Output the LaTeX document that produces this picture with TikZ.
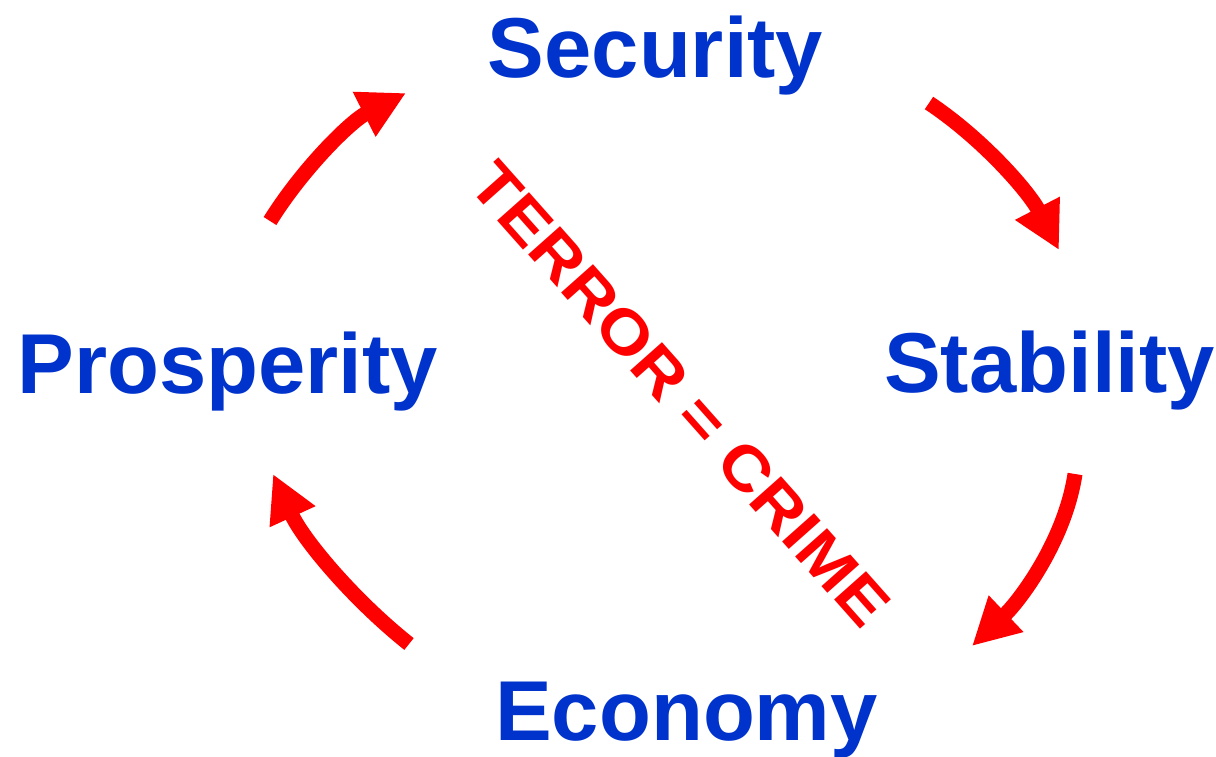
\documentclass[tikz,border=0pt]{standalone}
\usepackage{fontspec}
\usepackage{graphicx}
\setmainfont{Liberation Sans}
\usetikzlibrary{arrows.meta}
\definecolor{kwblue}{RGB}{0,51,204}
\definecolor{kwred}{RGB}{255,0,0}
\begin{document}
\begin{tikzpicture}[x=1pt,y=-1pt,
  word/.style={font=\fontsize{85}{100}\selectfont\bfseries, text=kwblue, inner sep=0pt, anchor=base},
  slogan/.style={font=\fontsize{62}{74}\selectfont\bfseries, text=kwred, inner sep=0pt, anchor=center},
  cyc/.style={draw=kwred, line width=15pt, -{Triangle[length=47pt,width=47pt]}},
]
\useasboundingbox (0,0) rectangle (1216,756);
\node[word] (sec) at (655.5,77) {Security};
\node[word] (pro) at (228,393) {Prosperity};
\node[word] (sta) at (1049.5,392) {Stability};
\node[word] (eco) at (686.5,740) {Economy};
\node[slogan, rotate=-48.4] (tc) at (680,394) {\scalebox{1.12}[1]{TERROR = CRIME}};
\coordinate (a1s) at (270,221); \coordinate (a1e) at (406,93);
\coordinate (a2s) at (929,103); \coordinate (a2e) at (1059,250);
\coordinate (a3s) at (1075,474); \coordinate (a3e) at (972,646);
\coordinate (a4s) at (409,644); \coordinate (a4e) at (273,474);
\draw[cyc] (a1s) .. controls (303,168) and (351,121) .. (a1e);
\draw[cyc] (a2s) .. controls (983,139) and (1029,192) .. (a2e);
\draw[cyc] (a3s) .. controls (1065,540) and (1020.5,600) .. (a3e);
\draw[cyc] (a4s) .. controls (352.5,599) and (303,539.4) .. (a4e);
\end{tikzpicture}
\end{document}
